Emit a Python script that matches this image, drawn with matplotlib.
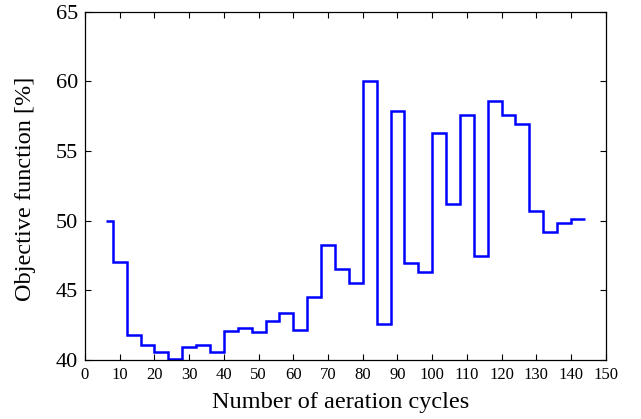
import matplotlib
matplotlib.use("Agg")
import matplotlib.pyplot as plt
import numpy as np

# step boundaries (aeration cycles) and objective value held on each step
cycle_edges = [6, 8, 12, 16, 20, 24, 28, 32, 36, 40, 44, 48, 52, 56, 60, 64, 68,
               72, 76, 80, 84, 88, 92, 96, 100, 104, 108, 112, 116, 120, 124,
               128, 132, 136, 140, 144]
objective = [50.0, 47.0, 41.8, 41.05, 40.6, 40.07, 40.9, 41.05, 40.55, 42.1,
             42.3, 42.03, 42.8, 43.35, 42.18, 44.55, 48.26, 46.5, 45.5, 60.05,
             42.56, 57.9, 46.95, 46.3, 56.33, 51.18, 57.58, 47.47, 58.58, 57.6,
             56.95, 50.73, 49.17, 49.8, 50.1]

x_ticks = np.arange(0, 151, 10)
y_ticks = np.arange(40, 66, 5)

plt.rcParams["font.family"] = ["Liberation Serif", "DejaVu Serif"]

fig = plt.figure(figsize=(6.41, 4.19), dpi=100)
ax = fig.add_axes([0.1326, 0.1408, 0.8124, 0.8312])

ax.stairs(objective, cycle_edges, color="#0000ff", linewidth=1.8, baseline=None)

ax.set_xlim(0, 150)
ax.set_ylim(40, 65)
ax.set_xticks(x_ticks)
ax.set_yticks(y_ticks)
ax.tick_params(direction="in", top=True, right=True, length=4, width=0.8, pad=5)
ax.tick_params(axis="x", labelsize=12)
ax.tick_params(axis="y", labelsize=16)
for s in ax.spines.values():
    s.set_linewidth(0.9)

ax.set_xlabel("Number of aeration cycles", fontsize=17.5)
ax.set_ylabel("Objective function [%]", fontsize=17.5)
ax.xaxis.set_label_coords(0.49, -0.085, transform=ax.transAxes)
ax.yaxis.set_label_coords(-0.115, 0.49, transform=ax.transAxes)
ax.yaxis.label.set_va("center")
ax.xaxis.label.set_va("baseline")
ax.xaxis.set_label_coords(0.49, (360 - 408) / 348.0)

fig.savefig("out.png", dpi=100)
